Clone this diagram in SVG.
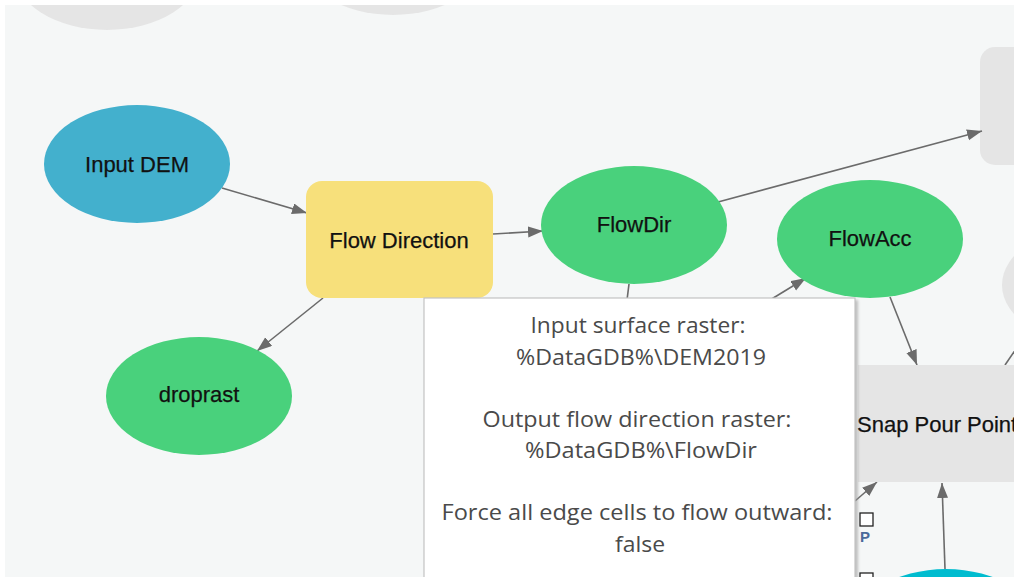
<svg xmlns="http://www.w3.org/2000/svg" width="1014" height="578" viewBox="0 0 1014 578">
  <defs>
    <marker id="arrow" markerUnits="userSpaceOnUse" markerWidth="16" markerHeight="12" refX="15" refY="5.5" orient="auto">
      <path d="M0,0 L15,5.5 L0,11 z" fill="#6b6b6b"/>
    </marker>
    <filter id="shadow" x="-5%" y="-5%" width="115%" height="115%">
      <feGaussianBlur stdDeviation="1.5"/>
    </filter>
    <clipPath id="canvas">
      <rect x="5" y="5" width="1009" height="572"/>
    </clipPath>
  </defs>
  <style>
    .label { font-family: "Liberation Sans", Arial, sans-serif; font-size: 22px; fill: #111; stroke: #111; stroke-width: 0.25; text-anchor: middle; }
    .data { fill: #49d17c; }
    .ghost { fill: #e5e5e5; }
    .conn { stroke: #6b6b6b; stroke-width: 1.6; fill: none; }
    .tip { font-family: "Open Sans", "Noto Sans", sans-serif; font-size: 21.5px; fill: #4a4a4a; text-anchor: middle; }
  </style>

  <rect width="1014" height="578" fill="#ffffff"/>
  <g clip-path="url(#canvas)">
    <rect x="5" y="5" width="1009" height="572" fill="#f5f7f7"/>

    <!-- partially visible elements at the edges of the view -->
    <g id="ghost-top-left"><ellipse class="ghost" cx="107" cy="-29" rx="93" ry="59"/></g>
    <g id="ghost-top-mid"><ellipse class="ghost" cx="393" cy="-44" rx="93" ry="59"/></g>
    <g id="ghost-right-top"><rect class="ghost" x="980" y="47" width="120" height="118" rx="15"/></g>
    <g id="ghost-right-mid"><ellipse class="ghost" cx="1095" cy="285" rx="93" ry="59"/></g>

    <!-- connectors -->
    <g id="connectors">
      <line class="conn" x1="222" y1="188" x2="307" y2="213" marker-end="url(#arrow)"/>
      <line class="conn" x1="493" y1="234" x2="543" y2="231" marker-end="url(#arrow)"/>
      <line class="conn" x1="718" y1="202" x2="982" y2="131" marker-end="url(#arrow)"/>
      <line class="conn" x1="323" y1="298" x2="257" y2="351" marker-end="url(#arrow)"/>
      <line class="conn" x1="629" y1="284" x2="627" y2="300"/>
      <line class="conn" x1="770" y1="300" x2="806" y2="278" marker-end="url(#arrow)"/>
      <line class="conn" x1="890" y1="297" x2="917" y2="365" marker-end="url(#arrow)"/>
      <line class="conn" x1="855" y1="501" x2="877" y2="482" marker-end="url(#arrow)"/>
      <line class="conn" x1="945" y1="569" x2="942" y2="483" marker-end="url(#arrow)"/>
      <line class="conn" x1="1016" y1="349" x2="1005" y2="365"/>
    </g>

    <!-- nodes -->
    <g id="input-dem">
      <ellipse cx="137" cy="164" rx="93" ry="59" fill="#43b0cd"/>
      <text class="label" x="137" y="172">Input DEM</text>
    </g>
    <g id="flow-direction">
      <rect x="306" y="181" width="187" height="117" rx="16" fill="#f7e07b"/>
      <text class="label" x="399" y="248">Flow Direction</text>
    </g>
    <g id="flowdir">
      <ellipse class="data" cx="634" cy="225" rx="93" ry="59"/>
      <text class="label" x="634" y="232">FlowDir</text>
    </g>
    <g id="flowacc">
      <ellipse class="data" cx="870" cy="239" rx="93" ry="59"/>
      <text class="label" x="870" y="246">FlowAcc</text>
    </g>
    <g id="droprast">
      <ellipse class="data" cx="199" cy="396" rx="93" ry="59"/>
      <text class="label" x="199" y="402">droprast</text>
    </g>
    <g id="snap-pour-point">
      <rect class="ghost" x="858" y="365" width="200" height="117"/>
      <text class="label" x="857" y="432" style="text-anchor:start">Snap Pour Point</text>
    </g>
    <g id="pour-points">
      <ellipse cx="946" cy="628" rx="93" ry="59" fill="#00bccf"/>
    </g>

    <!-- parameter tooltip -->
    <g id="tooltip">
      <rect x="426" y="300" width="432" height="290" fill="#9a9a9a" opacity="0.6" filter="url(#shadow)"/>
      <rect x="424" y="298" width="431" height="290" fill="#ffffff" stroke="#c4c4c4" stroke-width="1.2"/>
      <text class="tip" x="638" y="333" textLength="215" lengthAdjust="spacingAndGlyphs">Input surface raster:</text>
      <text class="tip" x="641" y="365" textLength="250" lengthAdjust="spacingAndGlyphs">%DataGDB%\DEM2019</text>
      <text class="tip" x="637" y="427" textLength="309" lengthAdjust="spacingAndGlyphs">Output flow direction raster:</text>
      <text class="tip" x="641" y="458" textLength="232" lengthAdjust="spacingAndGlyphs">%DataGDB%\FlowDir</text>
      <text class="tip" x="637" y="520" textLength="391" lengthAdjust="spacingAndGlyphs">Force all edge cells to flow outward:</text>
      <text class="tip" x="640" y="552" textLength="50" lengthAdjust="spacingAndGlyphs">false</text>
    </g>

    <!-- port markers -->
    <g id="ports">
      <rect x="860" y="513" width="13" height="13" fill="#ffffff" stroke="#222" stroke-width="1.3"/>
      <text x="860" y="542" font-family="Liberation Sans, Arial, sans-serif" font-size="15" font-weight="bold" fill="#4a6a9a">P</text>
      <rect x="860" y="573" width="13" height="13" fill="#ffffff" stroke="#222" stroke-width="1.3"/>
    </g>
  </g>
</svg>
